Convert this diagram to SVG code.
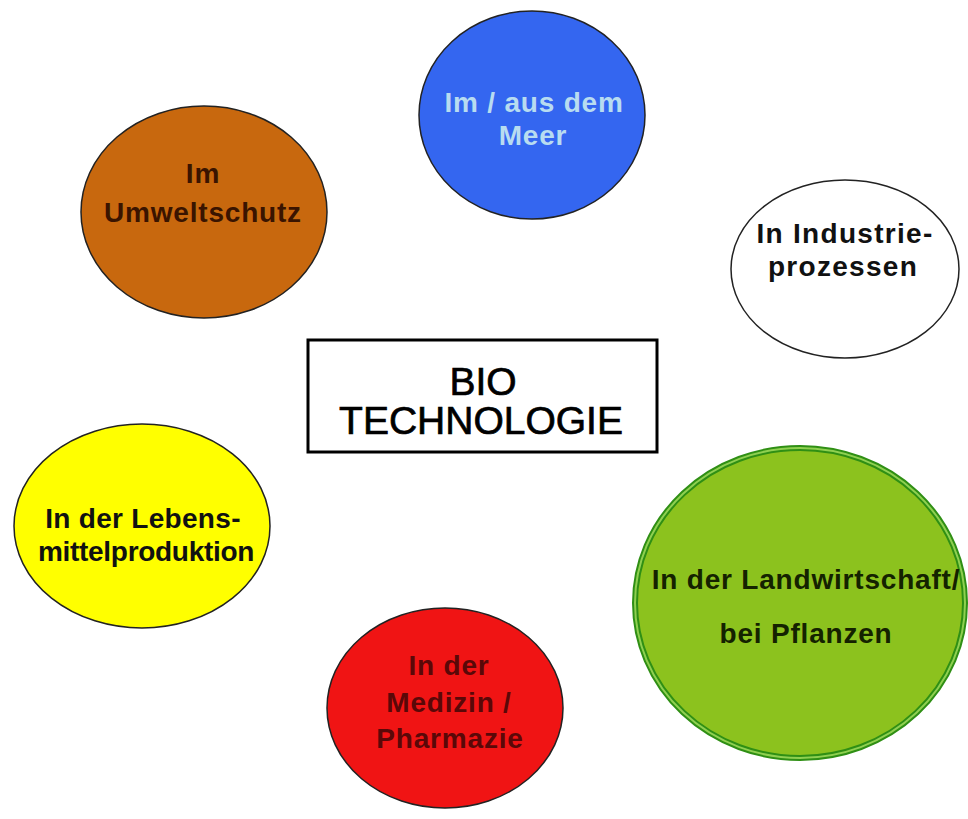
<svg xmlns="http://www.w3.org/2000/svg" width="968" height="819" viewBox="0 0 968 819">
<style>
.lbl{font-family:"Liberation Sans",Arial,sans-serif;font-weight:bold;text-anchor:middle;font-size:28px;letter-spacing:0.8px;}
.ell{stroke:#222;stroke-width:1.5;}
.main{font-family:"Liberation Sans",Arial,sans-serif;font-size:39px;text-anchor:middle;fill:#000;stroke:#000;stroke-width:0.7;}
</style>
<rect width="968" height="819" fill="#fff"/>
<g id="connectors"></g>
<g id="meer">
<ellipse class="ell" cx="532" cy="115" rx="113" ry="104" fill="#3466f0"/>
<text class="lbl" x="534" y="112" font-size="27" fill="#b8dcf0">Im / aus dem</text>
<text class="lbl" x="533" y="145" font-size="27" fill="#b8dcf0">Meer</text>
</g>
<g id="umwelt">
<ellipse class="ell" cx="204" cy="212" rx="123" ry="106" fill="#c8680e"/>
<text class="lbl" x="203" y="183" fill="#3a1400">Im</text>
<text class="lbl" x="203" y="222" fill="#3a1400">Umweltschutz</text>
</g>
<g id="industrie">
<ellipse class="ell" cx="845" cy="269" rx="114" ry="89" fill="#fff"/>
<text class="lbl" x="845" y="243" fill="#111" style="letter-spacing:1.3px">In Industrie-</text>
<text class="lbl" x="843" y="276" fill="#111" style="letter-spacing:1.3px">prozessen</text>
</g>
<g id="bio">
<rect x="308" y="340" width="349" height="112" fill="#fff" stroke="#000" stroke-width="3"/>
<text class="main" x="483" y="395">BIO</text>
<text class="main" x="481" y="434">TECHNOLOGIE</text>
</g>
<g id="lebensmittel">
<ellipse class="ell" cx="142" cy="526" rx="128" ry="102" fill="#ffff00"/>
<text class="lbl" x="143" y="528" fill="#111" style="letter-spacing:0.3px">In der Lebens-</text>
<text class="lbl" x="146" y="561" fill="#111" style="letter-spacing:-0.3px">mittelproduktion</text>
</g>
<g id="landwirtschaft">
<ellipse cx="800" cy="603" rx="165" ry="155" fill="#8cc21e" stroke="#2f8f14" stroke-width="6"/>
<ellipse cx="800" cy="603" rx="165" ry="155" fill="none" stroke="#8fd050" stroke-width="2"/>
<text class="lbl" x="806" y="589" fill="#142200">In der Landwirtschaft/</text>
<text class="lbl" x="806" y="643" fill="#142200">bei Pflanzen</text>
</g>
<g id="medizin">
<ellipse class="ell" cx="445" cy="708" rx="118" ry="100" fill="#f01414"/>
<text class="lbl" x="449" y="675" fill="#5a0808">In der</text>
<text class="lbl" x="449" y="712" fill="#5a0808">Medizin /</text>
<text class="lbl" x="450" y="748" fill="#5a0808">Pharmazie</text>
</g>
</svg>
